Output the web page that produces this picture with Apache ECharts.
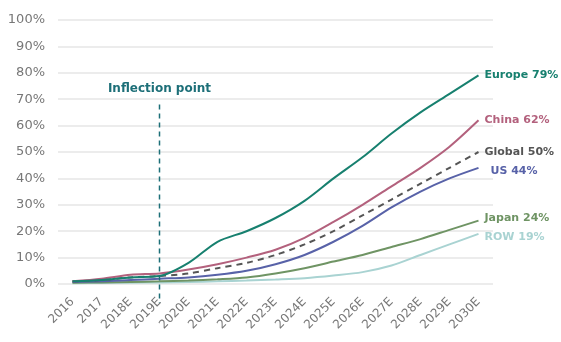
<!DOCTYPE html>
<html>
<head>
<meta charset="utf-8">
<script src="https://cdn.jsdelivr.net/npm/echarts@6/dist/echarts.min.js"></script>
<style>
  html, body { margin: 0; padding: 0; background: #fff; }
  #chart { width: 561px; height: 342px; }
</style>
</head>
<body>
<div id="chart"></div>
<script>
// Share of new sales by region, 2016–2030E (%)
const years = ['2016','2017','2018E','2019E','2020E','2021E','2022E','2023E','2024E','2025E','2026E','2027E','2028E','2029E','2030E'];
const europe = [1, 1.5, 2.5, 3, 8, 16, 20, 25, 31.5, 40, 48, 57, 65, 72, 79];
const china  = [1, 2, 3.5, 4, 5.5, 7.5, 10, 13, 17.5, 23.5, 30, 37, 44, 52, 62];
const global = [1, 1.5, 2.5, 3, 4, 6, 8, 11, 15, 20, 26, 32, 38, 44, 50];
const us     = [0.8, 1, 1.5, 2, 2.5, 3.5, 5, 7.5, 11, 16, 22, 29, 35, 40, 44];
const japan  = [0.5, 0.6, 0.8, 1, 1.3, 1.8, 2.5, 4, 6, 8.5, 11, 14, 17, 20.5, 24];
const row    = [0.3, 0.4, 0.5, 0.6, 0.8, 1, 1.3, 1.7, 2.2, 3.2, 4.5, 7, 11, 15, 19];
const yTicks = [0, 10, 20, 30, 40, 50, 60, 70, 80, 90, 100];
const inflectionYear = '2019E';
const inflectionLabel = 'Inflection point';

const FONT = 'DejaVu Sans';

function lineSeries(name, data, color, opts) {
  opts = opts || {};
  return {
    name: name,
    type: 'line',
    data: data,
    smooth: 0.3,
    symbol: 'none',
    z: opts.z || 2,
    lineStyle: { color: color, width: 2, type: opts.dash ? [6, 5] : 'solid' },
    endLabel: {
      show: true,
      formatter: name + ' ' + data[data.length - 1] + '%',
      color: opts.labelColor || color,
      fontFamily: FONT,
      fontWeight: 'bold',
      fontSize: 11,
      distance: 6,
      offset: opts.offset || [0, 0]
    }
  };
}

const chart = echarts.init(document.getElementById('chart'));
chart.setOption({
  animation: false,
  backgroundColor: '#fff',
  grid: { left: 58, right: 68, top: 20, bottom: 58, containLabel: false },
  xAxis: {
    type: 'category',
    data: years,
    boundaryGap: true,
    axisLine: { show: false },
    axisTick: { show: false },
    axisLabel: {
      rotate: 45,
      color: '#777',
      fontFamily: FONT,
      fontSize: 12,
      margin: 16,
      interval: 0
    }
  },
  yAxis: {
    type: 'value',
    min: yTicks[0],
    max: yTicks[yTicks.length - 1],
    interval: 10,
    axisLine: { show: false },
    axisTick: { show: false },
    splitLine: { lineStyle: { color: '#e6e6e6', width: 1.5 } },
    axisLabel: {
      formatter: '{value}%',
      color: '#777',
      fontFamily: FONT,
      fontSize: 13,
      margin: 13
    }
  },
  series: [
    lineSeries('ROW', row, '#a9d3d2', { offset: [0, 3] }),
    lineSeries('Japan', japan, '#6f9464', { offset: [0, -2] }),
    lineSeries('US', us, '#5862a8', { offset: [6, 3] }),
    lineSeries('Global', global, '#555555', { dash: true, offset: [0, 0] }),
    lineSeries('China', china, '#b3617d', { offset: [0, 0] }),
    lineSeries('Europe', europe, '#17806f', { offset: [0, 0], z: 3 })
  ]
});

// Dashed marker at the inflection year, drawn through the axis scales
function drawInflection() {
  const top = chart.convertToPixel({ gridIndex: 0 }, [inflectionYear, 68]);
  const bottom = chart.convertToPixel({ gridIndex: 0 }, [inflectionYear, 0]);
  chart.setOption({
    graphic: [
      {
        type: 'line',
        shape: { x1: top[0], y1: top[1], x2: bottom[0], y2: bottom[1] + 19 },
        style: { stroke: '#1d6f78', lineWidth: 1.5, lineDash: [5, 4] },
        z: 10
      },
      {
        type: 'text',
        x: top[0],
        y: top[1] - 16,
        style: {
          text: inflectionLabel,
          fill: '#1d6f78',
          font: 'bold 12px "' + FONT + '"',
          align: 'center',
          verticalAlign: 'middle'
        },
        z: 10
      }
    ]
  });
}
drawInflection();
</script>
</body>
</html>
